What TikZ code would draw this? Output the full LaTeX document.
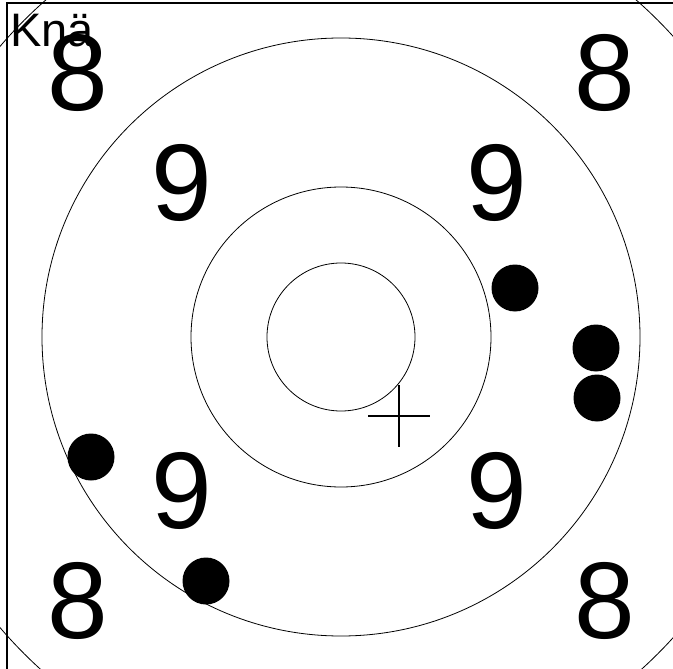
\documentclass[tikz,border=0pt]{standalone}
\usepackage{fontspec}
\setmainfont{Liberation Sans}
\usetikzlibrary{positioning}

\begin{document}
\begin{tikzpicture}[x=1pt,y=-1pt,ring/.style={draw,line width=.8pt},score/.style={font=\fontsize{109}{109}\selectfont,inner sep=0pt},shot/.style={circle,fill,minimum size=47pt,inner sep=0pt}]
\useasboundingbox (0,0) rectangle (673,669);
\coordinate (c) at (341,337);
% rings
\begin{scope}
\clip (0,0) rectangle (673,669);
\draw[ring] (c) circle[radius=448];
\end{scope}
\draw[ring] (c) circle[radius=74];
\draw[ring] (c) circle[radius=150];
\draw[ring] (c) circle[radius=299];
% ring numbers
\node[score] (tl8) at (78,73) {8};
\node[score] (tr8) at (605,73) {8};
\node[score] (bl8) at (78,601) {8};
\node[score] (br8) at (605,601) {8};
\node[score] (tl9) at (182,183) {9};
\node[score] (tr9) at (497,183) {9};
\node[score] (bl9) at (182,491) {9};
\node[score] (br9) at (497,491) {9};
% shots
\node[shot] (s1) at (515,288) {};
\node[shot] (s2) at (596,348) {};
\node[shot] (s3) at (597,398) {};
\node[shot] (s4) at (91,457) {};
\node[shot] (s5) at (206,581) {};
% aim mark
\coordinate (m) at (399,416);
\draw[line width=2.5pt] ([xshift=-31pt]m) -- ([xshift=31pt]m) ([yshift=31pt]m) -- ([yshift=-31pt]m);
% frame
\draw[line width=1.5pt] (7,669) -- (7,3) -- (673,3);
\node[anchor=base west,font=\fontsize{47}{47}\selectfont,inner sep=0pt] (lbl) at (10,47) {Knä};
\end{tikzpicture}
\end{document}
